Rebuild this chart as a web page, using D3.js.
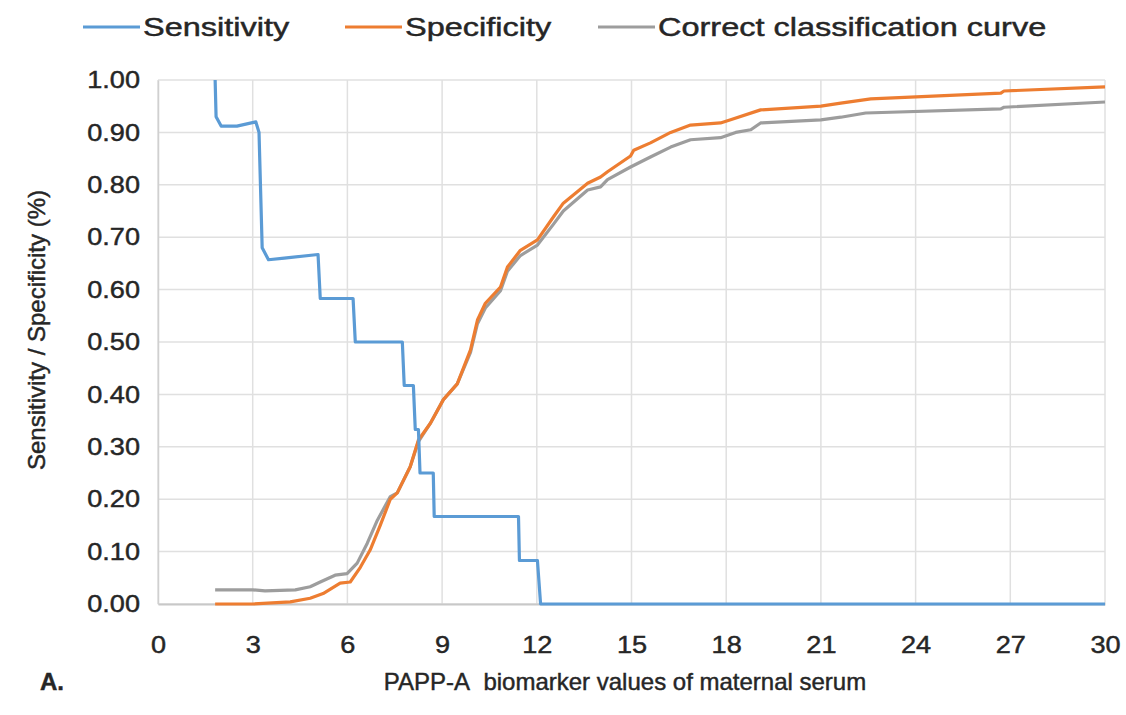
<!DOCTYPE html>
<meta charset="utf-8">
<script src="https://d3js.org/d3.v7.min.js"></script>
<style>
  body { margin: 0; background: #fff; }
  text { font-family: "Liberation Sans", Arial, sans-serif; fill: #262626; stroke: #262626; stroke-width: 0.45px; }
</style>
<div id="my_dataviz"></div>
<script>
// series: [biomarker value, proportion]
var sensitivity = [[1.81,1.0],[1.84,0.93],[2.0,0.912],[2.5,0.912],[3.1,0.92],[3.2,0.9],[3.3,0.68],[3.5,0.657],[4.0,0.66],
  [5.07,0.667],[5.14,0.583],[6.18,0.583],[6.25,0.5],[7.74,0.5],[7.8,0.417],[8.09,0.417],[8.15,0.333],[8.25,0.333],
  [8.3,0.25],[8.72,0.25],[8.75,0.167],[11.42,0.167],[11.45,0.083],[12.02,0.083],[12.12,0],[30,0]];

var specificity = [[1.81,0.0],[3.0,0.0],[4.19,0.004],[4.82,0.011],[5.23,0.02],[5.77,0.04],[6.09,0.042],[6.41,0.07],
  [6.72,0.103],[7.04,0.15],[7.36,0.2],[7.58,0.212],[7.99,0.262],[8.25,0.313],[8.63,0.345],[9.04,0.39],[9.48,0.42],
  [9.9,0.485],[10.12,0.542],[10.37,0.574],[10.85,0.605],[11.07,0.643],[11.48,0.675],[12.02,0.695],[12.53,0.739],
  [12.84,0.765],[13.61,0.803],[14.02,0.815],[14.24,0.825],[14.97,0.855],[15.07,0.866],[15.6,0.88],[16.24,0.9],
  [16.87,0.914],[17.82,0.918],[18.14,0.924],[19.09,0.943],[21.0,0.95],[21.63,0.956],[22.58,0.964],[26.7,0.975],
  [26.8,0.979],[30.0,0.987]];

var correctCurve = [[1.81,0.027],[3.0,0.027],[3.39,0.025],[4.35,0.027],[4.82,0.033],[5.14,0.042],[5.61,0.055],
  [5.99,0.058],[6.31,0.078],[6.63,0.116],[6.95,0.16],[7.36,0.205],[7.58,0.212],[7.99,0.262],[8.25,0.31],[8.63,0.345],
  [9.04,0.39],[9.48,0.42],[9.9,0.48],[10.12,0.535],[10.37,0.565],[10.85,0.598],[11.07,0.635],[11.48,0.665],
  [12.02,0.685],[12.53,0.725],[12.84,0.75],[13.61,0.79],[14.02,0.796],[14.24,0.81],[14.97,0.834],[15.6,0.853],
  [16.24,0.872],[16.87,0.886],[17.82,0.89],[18.3,0.9],[18.78,0.905],[19.09,0.918],[21.0,0.924],[21.63,0.929],
  [22.42,0.937],[26.7,0.945],[26.8,0.948],[30.0,0.958]];

var seriesNames = ["Sensitivity", "Specificity", "Correct classification curve"];
var seriesColors = ["#5b9bd5", "#ed7d31", "#9d9d9d"];
var xTicks = [0, 3, 6, 9, 12, 15, 18, 21, 24, 27, 30];
var yTicks = [0, 0.1, 0.2, 0.3, 0.4, 0.5, 0.6, 0.7, 0.8, 0.9, 1.0];

var W = 1126, H = 715;
var margin = {top: 80, right: 21, bottom: 111, left: 158},
    width = W - margin.left - margin.right,
    height = H - margin.top - margin.bottom;
var tickStretch = 1.13, legendStretch = 1.3; // reference text is stretched sideways

var root = d3.select("#my_dataviz").append("svg")
    .attr("width", W).attr("height", H);
var svg = root.append("g")
    .attr("transform", "translate(" + margin.left + "," + margin.top + ")");

var x = d3.scaleLinear().domain([0, 30]).range([0, width]);
var y = d3.scaleLinear().domain([0, 1]).range([height, 0]);

// grid
svg.append("g")
  .selectAll("line.h").data(yTicks).enter().append("line")
    .attr("x1", 0).attr("x2", width)
    .attr("y1", function(d) { return y(d); }).attr("y2", function(d) { return y(d); })
    .style("stroke", "#e0e0e0").style("stroke-width", 1.5);
svg.append("g")
  .selectAll("line.v").data(xTicks).enter().append("line")
    .attr("y1", 0).attr("y2", height)
    .attr("x1", function(d) { return x(d); }).attr("x2", function(d) { return x(d); })
    .style("stroke", "#e0e0e0").style("stroke-width", 1.5);

// axes
var xAxis = svg.append("g")
    .attr("transform", "translate(0," + height + ")")
    .call(d3.axisBottom(x).tickValues(xTicks).tickSize(0).tickPadding(32).tickFormat(d3.format("d")));
var yAxis = svg.append("g")
    .call(d3.axisLeft(y).tickValues(yTicks).tickSize(0).tickPadding(18).tickFormat(d3.format(".2f")));
xAxis.select(".domain").style("stroke", "#c8c8c8").style("stroke-width", 2);
yAxis.select(".domain").style("stroke", "#d0d0d0").style("stroke-width", 1.5);
root.selectAll(".tick text")
    .style("font-size", "24px").style("fill", "#262626")
    .attr("font-family", null);
xAxis.selectAll(".tick text").attr("transform", "scale(" + tickStretch + ",1)");
yAxis.selectAll(".tick text").attr("transform", "scale(" + tickStretch + ",1)")
    .attr("x", -18 / tickStretch);

// lines
var line = d3.line()
    .x(function(d) { return x(d[0]); })
    .y(function(d) { return y(d[1]); });
var allSeries = [correctCurve, specificity, sensitivity];
var order = [2, 1, 0];
allSeries.forEach(function(s, i) {
  svg.append("path")
    .datum(s)
    .attr("d", line)
    .style("fill", "none")
    .style("stroke", seriesColors[order[i]])
    .style("stroke-width", 3.2)
    .style("stroke-linejoin", "round");
});

// legend
var legendX = [83, 345, 598];
seriesNames.forEach(function(name, i) {
  var g = root.append("g").attr("transform", "translate(" + legendX[i] + ",27)");
  g.append("line").attr("x1", 0).attr("x2", 57).attr("y1", 0).attr("y2", 0)
    .style("stroke", seriesColors[i]).style("stroke-width", 3.2);
  g.append("text").attr("transform", "translate(60,0) scale(" + legendStretch + ",1)")
    .attr("dy", "0.35em").style("font-size", "25px").text(name);
});

// axis titles
root.append("text")
  .attr("transform", "translate(625,690)")
  .attr("text-anchor", "middle").style("font-size", "24px")
  .text("PAPP-A\u00a0 biomarker values of maternal serum");
root.append("text")
  .attr("transform", "translate(40,690)")
  .style("font-size", "24px").style("font-weight", "bold").text("A.");
root.append("text")
  .attr("transform", "translate(45,330) rotate(-90)")
  .attr("text-anchor", "middle").style("font-size", "24px")
  .text("Sensitivity / Specificity (%)");
</script>
